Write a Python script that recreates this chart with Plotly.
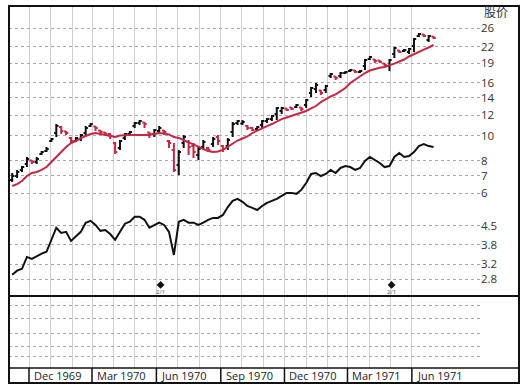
import math
import plotly.graph_objects as go
import pandas as pd

# ---------------- data ----------------
week_dates = pd.date_range("1969-11-07", periods=87, freq="7D")

high = [7.18, 7.38, 7.64, 8.28, 8.06, 8.28, 8.73, 9.04, 9.79, 11.09,
        10.89, 10.42, 9.88, 9.88, 10.15, 10.89, 11.19, 10.89, 10.52, 10.33,
        10.24, 9.45, 9.62, 10.24, 10.42, 11.29, 11.49, 11.29, 10.33, 10.61,
        10.89, 10.52, 9.62, 9.37, 8.81, 10.06, 9.62, 9.37, 9.04, 9.62,
        9.04, 9.88, 10.06, 9.21, 9.79, 11.29, 11.49, 11.49, 10.99, 10.80,
        10.89, 11.49, 11.70, 12.01, 12.90, 12.90, 12.78, 12.90, 13.25, 12.90,
        13.85, 15.40, 15.96, 15.00, 15.68, 17.44, 16.98, 17.59, 17.75, 18.07,
        17.91, 17.91, 19.75, 20.28, 19.75, 19.57, 19.06, 19.75, 21.97, 21.39,
        21.58, 21.77, 23.79, 24.87, 24.65, 24.43, 24.21]
low = [6.63, 6.87, 7.25, 7.57, 7.78, 7.78, 8.43, 8.65, 9.45, 9.88,
       10.15, 10.06, 9.37, 9.45, 9.54, 9.97, 10.80, 10.42, 10.06, 9.97,
       9.71, 8.50, 8.81, 9.62, 9.97, 10.70, 10.99, 10.70, 9.79, 9.88,
       10.24, 10.06, 8.96, 7.25, 7.06, 8.96, 8.43, 8.20, 8.06, 8.81,
       8.65, 9.04, 9.21, 8.65, 8.81, 9.88, 10.99, 10.99, 10.52, 10.42,
       10.52, 10.70, 11.19, 11.39, 11.49, 12.12, 12.45, 12.56, 12.78, 12.45,
       12.78, 14.10, 14.61, 14.35, 14.61, 16.68, 16.39, 16.68, 17.28, 17.59,
       17.44, 17.44, 17.91, 19.57, 19.06, 19.06, 18.39, 17.75, 19.92, 20.83,
       21.01, 20.64, 21.01, 24.00, 24.00, 22.96, 23.58]
open_ = [6.75, 6.99, 7.38, 7.78, 8.02, 7.92, 8.50, 8.73, 9.54, 10.24,
         10.80, 10.37, 9.79, 9.54, 9.71, 10.24, 10.89, 10.85, 10.47, 10.29,
         10.15, 9.37, 8.96, 9.79, 10.15, 10.89, 11.19, 11.24, 10.29, 10.15,
         10.42, 10.47, 9.54, 8.81, 7.71, 9.37, 9.45, 9.12, 8.43, 9.04,
         8.96, 9.29, 9.88, 9.12, 9.12, 10.33, 11.19, 11.14, 10.89, 10.70,
         10.61, 10.99, 11.39, 11.59, 12.12, 12.45, 12.73, 12.84, 12.90, 12.84,
         13.13, 14.61, 15.13, 14.94, 15.00, 16.98, 16.90, 16.98, 17.44, 17.75,
         17.83, 17.59, 18.56, 19.75, 19.66, 19.49, 18.98, 18.56, 20.64, 21.30,
         21.20, 21.01, 22.16, 24.21, 24.54, 23.37, 24.10]
close = [6.99, 7.25, 7.57, 8.13, 7.92, 8.13, 8.65, 8.88, 9.71, 10.89,
         10.42, 10.24, 9.54, 9.79, 10.06, 10.70, 11.09, 10.70, 10.33, 10.15,
         9.97, 8.65, 9.54, 10.15, 10.33, 11.19, 11.39, 11.09, 10.15, 10.52,
         10.70, 10.33, 9.37, 7.38, 8.65, 9.88, 9.04, 8.65, 8.88, 9.45,
         8.81, 9.71, 9.54, 8.88, 9.62, 11.09, 11.39, 11.29, 10.70, 10.52,
         10.80, 11.39, 11.59, 11.91, 12.78, 12.78, 12.56, 12.67, 13.13, 12.67,
         13.72, 15.27, 15.68, 14.61, 15.54, 17.28, 16.68, 17.44, 17.59, 17.91,
         17.59, 17.75, 19.57, 20.10, 19.40, 19.23, 18.72, 19.57, 21.77, 21.01,
         21.39, 21.58, 23.58, 24.65, 24.21, 24.21, 23.79]
moving_avg = [6.40, 6.51, 6.69, 6.99, 7.18, 7.25, 7.38, 7.57, 7.92, 8.28,
              8.65, 9.04, 9.37, 9.54, 9.79, 9.97, 10.15, 10.24, 10.15, 10.06,
              9.93, 9.88, 10.02, 10.06, 10.06, 10.06, 10.06, 10.06, 10.06, 10.15,
              10.24, 10.20, 10.11, 9.88, 9.79, 9.62, 9.45, 9.29, 9.08, 8.88,
              8.73, 8.65, 8.69, 8.81, 9.08, 9.33, 9.58, 9.75, 9.93, 10.24,
              10.47, 10.70, 10.89, 11.09, 11.34, 11.59, 11.75, 11.91, 12.07, 12.23,
              12.45, 12.73, 13.01, 13.48, 13.85, 14.16, 14.42, 14.80, 15.27, 15.96,
              16.46, 16.98, 17.44, 17.83, 18.07, 18.26, 18.39, 18.62, 18.96, 19.32,
              19.66, 20.19, 20.64, 21.10, 21.47, 21.87, 22.36]
rel_strength = [2.91, 3.02, 3.07, 3.41, 3.35, 3.44, 3.51, 3.57, 3.97, 4.42,
                4.22, 4.26, 3.93, 4.11, 4.26, 4.62, 4.70, 4.53, 4.30, 4.33,
                4.18, 3.97, 4.26, 4.58, 4.66, 4.87, 4.87, 4.74, 4.42, 4.53,
                4.62, 4.53, 4.26, 3.47, 4.66, 4.74, 4.62, 4.62, 4.53, 4.62,
                4.74, 4.82, 4.82, 4.95, 5.31, 5.61, 5.71, 5.56, 5.36, 5.27,
                5.17, 5.36, 5.51, 5.61, 5.71, 5.86, 6.02, 6.02, 5.97, 6.18,
                6.57, 7.12, 7.18, 6.99, 7.12, 7.38, 7.18, 7.51, 7.64, 7.57,
                7.38, 7.51, 7.99, 8.28, 8.06, 7.85, 7.57, 7.64, 8.28, 8.58,
                8.28, 8.35, 8.65, 9.12, 9.29, 9.12, 9.04]

price_ticks = [2.8, 3.2, 3.8, 4.5, 6, 7, 8, 10, 12, 14, 16, 19, 22, 26]
price_tick_text = ["2.8", "3.2", "3.8", "4.5", "6", "7", "8", "10", "12", "14",
                   "16", "19", "22", "26"]
axis_title = "股价"

month_grid_dates = pd.date_range("1969-12-01", "1971-06-01", freq="MS")
quarter_labels = ["Dec 1969", "Mar 1970", "Jun 1970", "Sep 1970", "Dec 1970",
                  "Mar 1971", "Jun 1971"]
quarter_dates = ["1969-12-01", "1970-03-01", "1970-06-01", "1970-09-01",
                 "1970-12-01", "1971-03-01", "1971-06-01"]

split_dates = ["1970-06-07", "1971-05-03"]
split_text = ["2/1", "2/1"]
split_level = [2.66, 2.66]

lower_grid = [0.153, 0.292, 0.486, 0.694, 0.875]

# ---------------- styling ----------------
RED = "#c42845"
BLACK = "#111111"
FONT = "Open Sans, Noto Sans CJK SC, sans-serif"

W, H = 524, 389
ml, mr, mt, mb = 9, 5, 6, 6
pw, ph = W - ml - mr, H - mt - mb


def px_y(py):
    return (H - mb - py) / ph


def px_x(px):
    return (px - ml) / pw


upper_bottom = px_y(296)
lower_bottom = px_y(368)
xdom_end = px_x(480)

fig = go.Figure()

fig.add_trace(go.Scatter(x=week_dates, y=rel_strength, mode="lines",
                         line=dict(color=BLACK, width=2), hoverinfo="skip",
                         showlegend=False))
fig.add_trace(go.Scatter(x=week_dates, y=moving_avg, mode="lines",
                         line=dict(color=RED, width=2), hoverinfo="skip",
                         showlegend=False))
fig.add_trace(go.Ohlc(x=week_dates, open=open_, high=high, low=low, close=close,
                      increasing=dict(line=dict(color=BLACK, width=2)),
                      decreasing=dict(line=dict(color=RED, width=2)),
                      tickwidth=0.45, showlegend=False))
fig.add_trace(go.Scatter(x=split_dates, y=split_level, mode="markers+text",
                         text=split_text, textposition="bottom center",
                         textfont=dict(size=6, color="#555555", family=FONT),
                         marker=dict(symbol="diamond", size=6, color=BLACK),
                         showlegend=False, hoverinfo="skip"))
# empty trace so that the lower (blank) panel subplot exists and draws its grid
fig.add_trace(go.Scatter(x=[], y=[], xaxis="x", yaxis="y2", showlegend=False,
                         hoverinfo="skip"))

y_lo = 26 * math.exp(-(296 - 28) / 112.7)
y_hi = 26 * math.exp((28 - 6) / 112.7)

fig.update_layout(
    width=W, height=H,
    margin=dict(l=ml, r=mr, t=mt, b=mb),
    paper_bgcolor="white", plot_bgcolor="white",
    showlegend=False,
    font=dict(family=FONT, color="#333333"),
    xaxis=dict(domain=[0, xdom_end], type="date",
               range=["1969-11-02 10:00", "1971-09-06 08:00"],
               tickvals=list(month_grid_dates), showticklabels=False,
               showgrid=True, gridcolor="#d0d0d0", gridwidth=1, griddash="solid",
               zeroline=False, showline=False, ticks="",
               rangeslider=dict(visible=False), anchor="y"),
    yaxis=dict(domain=[upper_bottom, 1], type="log",
               range=[math.log10(y_lo), math.log10(y_hi)],
               tickvals=price_ticks, ticktext=price_tick_text,
               side="right", anchor="x", ticks="",
               tickfont=dict(size=11.5, color="#333333", family=FONT),
               showgrid=True, gridcolor="#a8a8a8", griddash="dot", gridwidth=1,
               zeroline=False, showline=False),
    yaxis2=dict(domain=[lower_bottom, upper_bottom], range=[0, 1],
                tickvals=lower_grid, showticklabels=False, anchor="x",
                showgrid=True, gridcolor="#a8a8a8", griddash="dot",
                zeroline=False, showline=False, ticks=""),
)

shapes = [
    dict(type="rect", xref="paper", yref="paper", x0=0, x1=1, y0=0, y1=1,
         line=dict(color=BLACK, width=2)),
    dict(type="line", xref="paper", yref="paper", x0=0, x1=1,
         y0=upper_bottom, y1=upper_bottom, line=dict(color=BLACK, width=2)),
    dict(type="line", xref="paper", yref="paper", x0=0, x1=1,
         y0=lower_bottom, y1=lower_bottom, line=dict(color=BLACK, width=1.5)),
]
annotations = []
for d, lab in zip(quarter_dates, quarter_labels):
    shapes.append(dict(type="line", xref="x", yref="paper", x0=d, x1=d,
                       y0=0, y1=lower_bottom, line=dict(color=BLACK, width=1.5)))
    annotations.append(dict(x=d, y=lower_bottom / 2, xref="x", yref="paper",
                            text=lab, showarrow=False, xanchor="left",
                            yanchor="middle", xshift=3,
                            font=dict(size=11, color="#222222", family=FONT)))
annotations.append(dict(x=px_x(482), y=px_y(12), xref="paper", yref="paper",
                        text=axis_title, showarrow=False, xanchor="left",
                        yanchor="middle",
                        font=dict(size=12, color="#333333",
                                  family="Noto Sans CJK SC, sans-serif")))
fig.update_layout(shapes=shapes, annotations=annotations)

fig.write_html("out.html",
               config={"displayModeBar": False},
               post_script="document.body.style.margin='0';"
                           "document.body.style.padding='0';")
